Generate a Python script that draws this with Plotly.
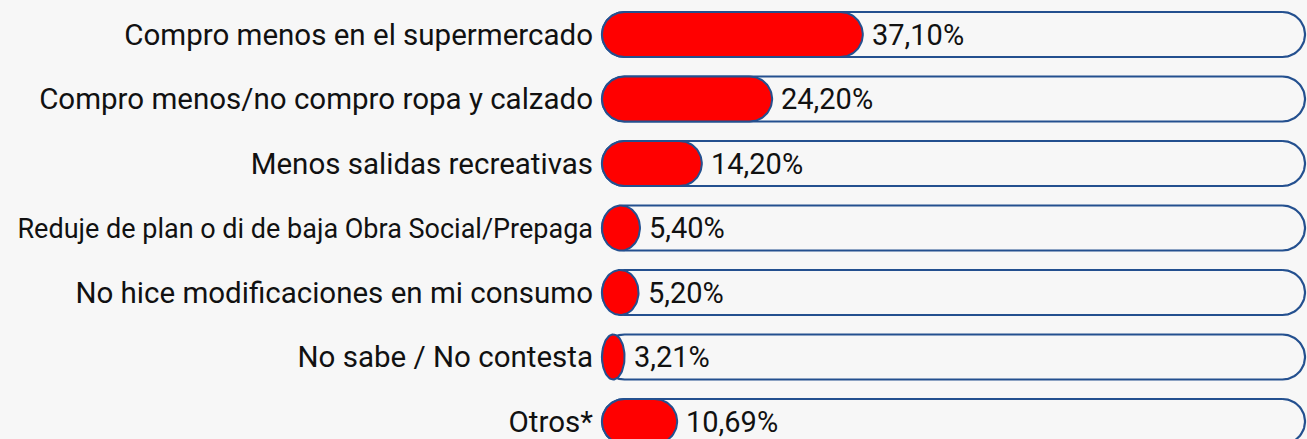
import numpy as np
import plotly.graph_objects as go

categories = [
    "Compro menos en el supermercado",
    "Compro menos/no compro ropa y calzado",
    "Menos salidas recreativas",
    "Reduje de plan o di de baja Obra Social/Prepaga",
    "No hice modificaciones en mi consumo",
    "No sabe / No contesta",
    "Otros*",
]
values = [37.10, 24.20, 14.20, 5.40, 5.20, 3.21, 10.69]
track_max = 100.0

W, H = 1307, 439
ML = 598
PX_X = 7.03          # pixels per percent
ROW_PX = 64.5        # pixels per row
TOP_PX = 34.5        # centre of first row
HALF_PX = 22.5       # half bar height in px

x_min = -(602 - ML) / PX_X
x_max = x_min + (W - ML) / PX_X
y_top = -TOP_PX / ROW_PX
y_bot = y_top + H / ROW_PX

BG = "#f7f7f7"
BLUE = "#24508f"
RED = "#ff0000"
TXT = "#111111"


def pill(x0, x1, cy):
    wpx = (x1 - x0) * PX_X
    rx = min(HALF_PX, wpx / 2.0) / PX_X
    ry = HALF_PX / ROW_PX
    t1 = np.linspace(-np.pi / 2, np.pi / 2, 40)
    t2 = np.linspace(np.pi / 2, 3 * np.pi / 2, 40)
    xs = np.concatenate([(x1 - rx) + rx * np.cos(t1), (x0 + rx) + rx * np.cos(t2)])
    ys = np.concatenate([cy + ry * np.sin(t1), cy + ry * np.sin(t2)])
    xs = np.append(xs, xs[0])
    ys = np.append(ys, ys[0])
    return xs, ys


fig = go.Figure()
for i, v in enumerate(values):
    xs, ys = pill(0, track_max, i)
    fig.add_trace(go.Scatter(x=xs, y=ys, mode="lines", fill="toself",
                             fillcolor=BG, line=dict(color=BLUE, width=2.2),
                             hoverinfo="skip", showlegend=False))
for i, v in enumerate(values):
    xs, ys = pill(0, v, i)
    fig.add_trace(go.Scatter(x=xs, y=ys, mode="lines", fill="toself",
                             fillcolor=RED, line=dict(color=BLUE, width=2),
                             hoverinfo="skip", showlegend=False))

labels = [f"{v:.2f}".replace(".", ",") + "%" for v in values]
for i, (v, t) in enumerate(zip(values, labels)):
    fig.add_annotation(x=v, y=i, text=t, showarrow=False, xanchor="left",
                       yanchor="middle", xshift=7,
                       font=dict(family="Roboto", size=29, color=TXT))

ticktext = [
    f"<span style='font-size:27px'>{c}</span>" if len(c) > 40 else c
    for c in categories
]

fig.update_layout(
    width=W, height=H,
    margin=dict(l=ML, r=0, t=0, b=0),
    paper_bgcolor=BG, plot_bgcolor=BG,
    xaxis=dict(range=[x_min, x_max], visible=False, fixedrange=True),
    yaxis=dict(range=[y_bot, y_top], tickmode="array",
               tickvals=list(range(len(categories))), ticktext=ticktext,
               showgrid=False, zeroline=False, showline=False, ticks="",
               ticklabelstandoff=4, fixedrange=True,
               tickfont=dict(family="Roboto", size=29.5, color=TXT)),
)

fig.write_html(
    "out.html",
    config={"displayModeBar": False},
    post_script="document.body.style.margin='0';"
                "document.body.style.overflow='hidden';"
                "document.body.style.background='#f7f7f7';",
)
